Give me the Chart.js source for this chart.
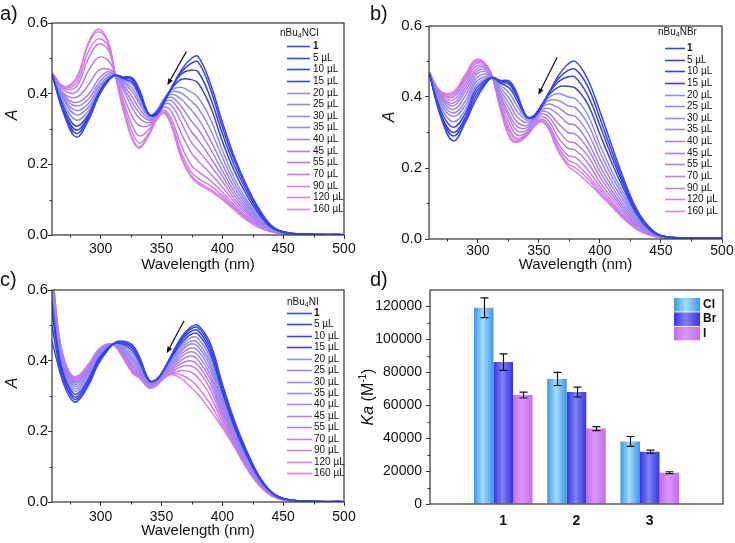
<!DOCTYPE html>
<html><head><meta charset="utf-8">
<script src="https://cdn.jsdelivr.net/npm/chart.js@4/dist/chart.umd.min.js"></script>
<style>
html,body{margin:0;padding:0;background:#fff;}
#wrap{position:relative;width:735px;height:543px;overflow:hidden;font-family:'Liberation Sans',Arial,sans-serif;}
canvas{position:absolute;}
.lbl{position:absolute;font-size:20px;line-height:20px;color:#111;}
</style></head>
<body><div id="wrap">
<canvas id="ca" width="367" height="276" style="left:0;top:0"></canvas>
<canvas id="cb" width="368" height="276" style="left:367px;top:0"></canvas>
<canvas id="cc" width="367" height="271" style="left:0;top:272px"></canvas>
<canvas id="cd" width="380" height="271" style="left:355px;top:272px"></canvas>
<div class="lbl" style="left:0;top:3px">a)</div>
<div class="lbl" style="left:370px;top:3px">b)</div>
<div class="lbl" style="left:0;top:269px">c)</div>
<div class="lbl" style="left:370px;top:269px">d)</div>
</div>
<script>
const FF = "'Liberation Sans', Arial, sans-serif";

// ---------- DATA ----------
const doseLabels = ['1','5 µL','10 µL','15 µL','20 µL','25 µL','30 µL','35 µL','40 µL','45 µL','55 µL','70 µL','90 µL','120 µL','160 µL'];
const wavelengthAB = [260,270,280,290,298,306,312,318,326,332,340,346,352,358,366,374,380,390,400,410,420,430,440,450,470,500];
const wavelengthC  = [260,264,268,274,280,290,298,306,312,318,326,332,340,346,352,358,366,374,380,390,400,410,420,430,440,450,470,500];
const wavelengthTicks = [300,350,400,450,500];
const absTicks = [0,0.2,0.4,0.6];

// a) nBu4NCl
const cl1   = [0.455,0.34,0.277,0.325,0.39,0.435,0.452,0.448,0.445,0.41,0.34,0.34,0.372,0.415,0.465,0.498,0.505,0.43,0.32,0.22,0.14,0.075,0.028,0.009,0.002,0.001];
const cl5   = [0.455,0.345,0.287,0.33,0.392,0.436,0.452,0.447,0.442,0.405,0.34,0.342,0.375,0.415,0.46,0.485,0.49,0.415,0.305,0.21,0.133,0.07,0.026,0.009,0.002,0.001];
const cl10  = [0.455,0.35,0.297,0.335,0.395,0.437,0.452,0.445,0.438,0.40,0.34,0.345,0.378,0.415,0.455,0.466,0.462,0.39,0.287,0.196,0.124,0.065,0.024,0.008,0.002,0.001];
const cl15  = [0.455,0.36,0.308,0.342,0.40,0.44,0.452,0.443,0.432,0.395,0.34,0.348,0.38,0.413,0.44,0.44,0.43,0.365,0.265,0.18,0.113,0.059,0.022,0.007,0.002,0.001];
const cl20  = [0.455,0.37,0.325,0.352,0.405,0.442,0.452,0.44,0.425,0.39,0.34,0.35,0.385,0.41,0.418,0.405,0.39,0.33,0.24,0.16,0.10,0.052,0.02,0.007,0.002,0.001];
const cl25  = [0.455,0.38,0.34,0.362,0.41,0.445,0.452,0.437,0.415,0.38,0.338,0.352,0.385,0.405,0.402,0.38,0.36,0.30,0.22,0.147,0.092,0.048,0.018,0.006,0.002,0.001];
const cl30  = [0.455,0.385,0.352,0.372,0.418,0.448,0.452,0.433,0.405,0.37,0.335,0.352,0.383,0.398,0.385,0.355,0.33,0.27,0.20,0.134,0.084,0.044,0.017,0.006,0.002,0.001];
const cl35  = [0.455,0.39,0.365,0.385,0.428,0.455,0.452,0.428,0.39,0.357,0.33,0.35,0.38,0.39,0.365,0.325,0.30,0.245,0.182,0.122,0.077,0.04,0.016,0.005,0.002,0.001];
const cl40  = [0.455,0.395,0.375,0.398,0.44,0.462,0.452,0.422,0.375,0.345,0.325,0.348,0.375,0.38,0.345,0.295,0.27,0.22,0.167,0.112,0.07,0.037,0.015,0.005,0.002,0.001];
const cl45  = [0.455,0.40,0.39,0.425,0.465,0.47,0.455,0.415,0.36,0.33,0.318,0.345,0.37,0.368,0.32,0.265,0.24,0.198,0.152,0.102,0.064,0.034,0.014,0.005,0.002,0.001];
const cl55  = [0.455,0.41,0.405,0.465,0.502,0.495,0.455,0.40,0.335,0.31,0.31,0.34,0.362,0.35,0.29,0.235,0.21,0.175,0.136,0.093,0.058,0.031,0.013,0.004,0.002,0.001];
const cl70  = [0.457,0.415,0.42,0.50,0.54,0.525,0.455,0.385,0.31,0.28,0.30,0.335,0.354,0.33,0.255,0.20,0.18,0.155,0.121,0.084,0.052,0.027,0.011,0.004,0.002,0.001];
const cl90  = [0.458,0.418,0.43,0.52,0.555,0.535,0.455,0.375,0.29,0.26,0.29,0.33,0.349,0.318,0.235,0.18,0.16,0.14,0.112,0.078,0.048,0.025,0.01,0.004,0.002,0.001];
const cl120 = [0.46,0.42,0.44,0.54,0.575,0.545,0.455,0.365,0.275,0.25,0.287,0.327,0.346,0.312,0.225,0.17,0.15,0.13,0.105,0.074,0.045,0.023,0.01,0.004,0.002,0.001];
const cl160 = [0.46,0.42,0.445,0.545,0.582,0.55,0.455,0.36,0.27,0.246,0.285,0.325,0.345,0.31,0.22,0.165,0.145,0.125,0.10,0.07,0.042,0.021,0.009,0.003,0.002,0.001];

// b) nBu4NBr
const br1   = [0.47,0.34,0.276,0.33,0.39,0.435,0.455,0.447,0.445,0.41,0.345,0.343,0.37,0.41,0.46,0.493,0.50,0.45,0.36,0.26,0.165,0.085,0.035,0.01,0.003,0.002];
const br5   = [0.47,0.345,0.29,0.337,0.40,0.438,0.455,0.445,0.44,0.405,0.345,0.345,0.373,0.41,0.452,0.475,0.478,0.43,0.34,0.245,0.155,0.08,0.032,0.01,0.003,0.002];
const br10  = [0.47,0.35,0.30,0.345,0.41,0.442,0.455,0.443,0.435,0.40,0.345,0.347,0.375,0.41,0.443,0.457,0.455,0.405,0.32,0.23,0.147,0.076,0.03,0.009,0.003,0.002];
const br15  = [0.47,0.36,0.315,0.355,0.42,0.447,0.455,0.44,0.425,0.39,0.343,0.348,0.377,0.405,0.428,0.43,0.425,0.38,0.295,0.212,0.137,0.071,0.028,0.009,0.003,0.002];
const br20  = [0.47,0.37,0.33,0.365,0.43,0.452,0.455,0.435,0.41,0.375,0.34,0.348,0.375,0.398,0.41,0.40,0.395,0.35,0.265,0.19,0.125,0.066,0.026,0.008,0.003,0.002];
const br25  = [0.47,0.38,0.345,0.378,0.44,0.458,0.455,0.428,0.395,0.36,0.335,0.347,0.372,0.39,0.39,0.375,0.37,0.325,0.245,0.175,0.115,0.061,0.024,0.008,0.003,0.002];
const br30  = [0.47,0.388,0.355,0.39,0.45,0.465,0.455,0.42,0.38,0.345,0.328,0.345,0.368,0.38,0.37,0.35,0.345,0.30,0.225,0.16,0.105,0.056,0.022,0.007,0.003,0.002];
const br35  = [0.47,0.395,0.365,0.405,0.46,0.472,0.455,0.412,0.365,0.33,0.32,0.342,0.363,0.368,0.35,0.325,0.32,0.275,0.205,0.147,0.095,0.051,0.02,0.007,0.003,0.002];
const br40  = [0.47,0.40,0.375,0.418,0.468,0.478,0.455,0.405,0.35,0.317,0.313,0.338,0.358,0.355,0.325,0.30,0.295,0.255,0.19,0.135,0.087,0.046,0.018,0.006,0.002,0.002];
const br45  = [0.47,0.403,0.383,0.428,0.476,0.483,0.455,0.398,0.34,0.305,0.306,0.333,0.352,0.345,0.305,0.275,0.27,0.235,0.175,0.125,0.08,0.042,0.017,0.006,0.002,0.001];
const br55  = [0.47,0.407,0.392,0.438,0.485,0.487,0.455,0.39,0.325,0.293,0.30,0.327,0.345,0.333,0.285,0.255,0.25,0.215,0.16,0.115,0.073,0.038,0.015,0.005,0.002,0.001];
const br70  = [0.47,0.41,0.40,0.448,0.493,0.491,0.455,0.383,0.31,0.283,0.296,0.322,0.338,0.322,0.268,0.235,0.23,0.195,0.148,0.105,0.066,0.034,0.014,0.005,0.002,0.001];
const br90  = [0.47,0.412,0.405,0.455,0.498,0.493,0.455,0.378,0.30,0.278,0.293,0.319,0.334,0.316,0.258,0.222,0.213,0.18,0.138,0.098,0.061,0.031,0.013,0.004,0.002,0.001];
const br120 = [0.47,0.414,0.41,0.46,0.502,0.494,0.455,0.374,0.29,0.274,0.291,0.316,0.331,0.312,0.25,0.212,0.20,0.17,0.13,0.093,0.057,0.029,0.012,0.004,0.002,0.001];
const br160 = [0.47,0.415,0.415,0.465,0.505,0.495,0.455,0.37,0.285,0.272,0.29,0.315,0.33,0.31,0.245,0.205,0.19,0.16,0.125,0.09,0.055,0.027,0.011,0.004,0.002,0.001];

// c) nBu4NI
const i1   = [0.455,0.40,0.35,0.30,0.283,0.33,0.39,0.43,0.452,0.455,0.445,0.41,0.345,0.345,0.375,0.415,0.465,0.495,0.50,0.45,0.335,0.23,0.145,0.075,0.03,0.01,0.002,0.001];
const i5   = [0.50,0.42,0.36,0.31,0.29,0.336,0.395,0.432,0.451,0.452,0.44,0.405,0.344,0.346,0.375,0.413,0.46,0.489,0.493,0.44,0.325,0.223,0.14,0.072,0.029,0.01,0.002,0.001];
const i10  = [0.54,0.44,0.37,0.318,0.297,0.342,0.40,0.434,0.45,0.449,0.435,0.40,0.343,0.347,0.375,0.41,0.455,0.482,0.485,0.43,0.318,0.217,0.136,0.07,0.028,0.01,0.002,0.001];
const i15  = [0.57,0.455,0.38,0.326,0.305,0.348,0.404,0.436,0.449,0.446,0.428,0.395,0.342,0.348,0.374,0.407,0.448,0.474,0.475,0.42,0.31,0.211,0.132,0.068,0.027,0.009,0.002,0.001];
const i20  = [0.60,0.47,0.39,0.334,0.313,0.355,0.408,0.438,0.448,0.442,0.42,0.388,0.34,0.347,0.372,0.402,0.44,0.465,0.463,0.408,0.30,0.205,0.128,0.066,0.026,0.009,0.002,0.001];
const i25  = [0.62,0.48,0.398,0.341,0.32,0.36,0.412,0.44,0.447,0.438,0.412,0.382,0.338,0.346,0.37,0.397,0.433,0.455,0.45,0.396,0.292,0.20,0.124,0.064,0.025,0.009,0.002,0.001];
const i30  = [0.63,0.49,0.405,0.347,0.327,0.366,0.416,0.442,0.446,0.434,0.405,0.376,0.336,0.344,0.367,0.392,0.426,0.447,0.44,0.385,0.284,0.194,0.12,0.062,0.024,0.008,0.002,0.001];
const i35  = [0.64,0.495,0.41,0.352,0.333,0.371,0.42,0.443,0.445,0.43,0.398,0.371,0.334,0.342,0.364,0.386,0.418,0.436,0.428,0.373,0.275,0.188,0.116,0.06,0.023,0.008,0.002,0.001];
const i40  = [0.65,0.50,0.415,0.357,0.338,0.375,0.423,0.444,0.444,0.426,0.39,0.366,0.332,0.34,0.361,0.38,0.41,0.425,0.415,0.36,0.265,0.182,0.112,0.058,0.022,0.008,0.002,0.001];
const i45  = [0.655,0.505,0.419,0.361,0.342,0.379,0.425,0.445,0.443,0.422,0.385,0.362,0.33,0.338,0.358,0.375,0.401,0.413,0.402,0.348,0.256,0.176,0.108,0.056,0.021,0.007,0.002,0.001];
const i55  = [0.66,0.51,0.422,0.364,0.346,0.382,0.427,0.446,0.442,0.418,0.38,0.358,0.328,0.336,0.355,0.37,0.392,0.40,0.388,0.335,0.247,0.17,0.104,0.054,0.021,0.007,0.002,0.001];
const i70  = [0.665,0.513,0.425,0.366,0.35,0.385,0.428,0.446,0.441,0.415,0.375,0.355,0.326,0.334,0.353,0.366,0.383,0.385,0.372,0.32,0.237,0.164,0.10,0.052,0.02,0.007,0.002,0.001];
const i90  = [0.67,0.516,0.427,0.368,0.352,0.387,0.429,0.447,0.441,0.413,0.371,0.353,0.324,0.332,0.352,0.363,0.372,0.368,0.352,0.302,0.226,0.16,0.098,0.05,0.019,0.006,0.002,0.001];
const i120 = [0.675,0.518,0.429,0.369,0.354,0.389,0.43,0.447,0.44,0.411,0.368,0.351,0.323,0.331,0.351,0.362,0.36,0.345,0.325,0.278,0.216,0.157,0.096,0.049,0.018,0.006,0.002,0.001];
const i160 = [0.68,0.52,0.43,0.37,0.355,0.39,0.43,0.447,0.44,0.41,0.365,0.35,0.322,0.33,0.35,0.36,0.35,0.325,0.305,0.26,0.21,0.155,0.095,0.048,0.018,0.006,0.002,0.001];

// d) association constants
const compounds = [1,2,3];
const kaTicks = [0,20000,40000,60000,80000,100000,120000];
const kaCl = [119200, 76000, 38000];
const kaBr = [86200, 68000, 31700];
const kaI  = [66200, 45800, 19000];
const errCl = [6000, 4000, 3000];
const errBr = [5000, 3000, 1000];
const errI  = [1800, 1200, 600];

const clSeries = [cl1,cl5,cl10,cl15,cl20,cl25,cl30,cl35,cl40,cl45,cl55,cl70,cl90,cl120,cl160];
const brSeries = [br1,br5,br10,br15,br20,br25,br30,br35,br40,br45,br55,br70,br90,br120,br160];
const iSeries  = [i1,i5,i10,i15,i20,i25,i30,i35,i40,i45,i55,i70,i90,i120,i160];

// ---------- STYLE ----------
const seriesColors = ['#3a48e6','#3442ea','#3740e8','#3b44e6','#8b8ff3','#9089f1','#9786f0','#9f83ef','#a880ee','#b07eee','#ba7cee','#c47cec','#cd7deb','#d67fea','#de82e8'];
const barEdge = ['#3f95ea','#3535e0','#c46cf0'];
const barMid  = ['#a2ddfb','#8080f6','#dc96f7'];

function mids(majors, min, max) {
  const out = []; const step = majors[1] - majors[0];
  for (let k = -1; k < majors.length; k++) {
    const v = majors[0] + step * (k + 0.5);
    if (v > min + 1e-9 && v < max - 1e-9) out.push(v);
  }
  return out;
}

function barGrad(ctx, x0, x1, i) {
  const g = ctx.createLinearGradient(x0, 0, x1, 0);
  g.addColorStop(0, barEdge[i]); g.addColorStop(0.45, barMid[i]); g.addColorStop(1, barEdge[i]);
  return g;
}

const extras = {
  id: 'extras',
  beforeDatasetsDraw(chart, args, opts) {
    if (!opts.barGradient) return;
    const ctx = chart.ctx;
    chart.data.datasets.forEach((ds, i) => {
      chart.getDatasetMeta(i).data.forEach(el => {
        const g = barGrad(ctx, el.x - el.width / 2, el.x + el.width / 2, i);
        el.options = Object.assign({}, el.options, {backgroundColor: g});
      });
    });
  },
  afterDraw(chart, args, opts) {
    const ctx = chart.ctx; const ca = chart.chartArea;
    ctx.save();
    (opts.minor || []).forEach(m => {
      const s = chart.scales[m.axis];
      ctx.strokeStyle = '#333'; ctx.lineWidth = 1;
      m.values.forEach(v => {
        const p = s.getPixelForValue(v);
        ctx.beginPath();
        if (s.isHorizontal()) { const px = Math.round(p) + 0.5; ctx.moveTo(px, ca.bottom); ctx.lineTo(px, ca.bottom + m.len); }
        else { const py = Math.round(p) + 0.5; ctx.moveTo(ca.left, py); ctx.lineTo(ca.left - m.len, py); }
        ctx.stroke();
      });
    });
    ctx.strokeStyle = '#333'; ctx.lineWidth = 1.2;
    ctx.strokeRect(ca.left, ca.top, ca.right - ca.left, ca.bottom - ca.top);
    const a = opts.arrow;
    if (a) {
      const xs = chart.scales.x, ys = chart.scales.y;
      const x1 = xs.getPixelForValue(a.from[0]), y1 = ys.getPixelForValue(a.from[1]);
      const x2 = xs.getPixelForValue(a.to[0]), y2 = ys.getPixelForValue(a.to[1]);
      const ang = Math.atan2(y2 - y1, x2 - x1);
      ctx.strokeStyle = '#111'; ctx.fillStyle = '#111'; ctx.lineWidth = 1.2;
      ctx.beginPath(); ctx.moveTo(x1, y1); ctx.lineTo(x2 - 4 * Math.cos(ang), y2 - 4 * Math.sin(ang)); ctx.stroke();
      ctx.beginPath(); ctx.moveTo(x2, y2);
      ctx.lineTo(x2 - 7 * Math.cos(ang - 0.38), y2 - 7 * Math.sin(ang - 0.38));
      ctx.lineTo(x2 - 7 * Math.cos(ang + 0.38), y2 - 7 * Math.sin(ang + 0.38));
      ctx.closePath(); ctx.fill();
    }
    const L = opts.legend;
    if (L) {
      ctx.fillStyle = '#111'; ctx.textBaseline = 'middle'; ctx.textAlign = 'left';
      let x = L.titleX;
      ctx.font = `10px ${FF}`; ctx.fillText(L.title[0], x, L.titleY); x += ctx.measureText(L.title[0]).width;
      ctx.font = `7px ${FF}`; ctx.fillText(L.title[1], x, L.titleY + 3); x += ctx.measureText(L.title[1]).width;
      ctx.font = `10px ${FF}`; ctx.fillText(L.title[2], x, L.titleY);
      chart.data.datasets.forEach((ds, i) => {
        const y = Math.round(L.firstY + i * L.dy) + 0.5;
        ctx.strokeStyle = ds.borderColor; ctx.lineWidth = 1.6;
        ctx.beginPath(); ctx.moveTo(L.x1, y); ctx.lineTo(L.x2, y); ctx.stroke();
        ctx.fillStyle = '#111';
        ctx.font = (i === 0 ? 'bold ' : '') + `10px ${FF}`;
        ctx.fillText(ds.label, L.textX, y);
      });
    }
    const B = opts.barLegend;
    if (B) {
      ctx.textBaseline = 'middle'; ctx.textAlign = 'left';
      chart.data.datasets.forEach((ds, i) => {
        const y0 = B.y + i * B.dy;
        ctx.fillStyle = barGrad(ctx, B.x, B.x + B.w, i);
        ctx.fillRect(B.x, y0, B.w, B.h);
        ctx.fillStyle = '#111'; ctx.font = `bold 12px ${FF}`;
        ctx.fillText(ds.label, B.textX, y0 + B.h / 2);
      });
    }
    const E = opts.errors;
    if (E) {
      const ys = chart.scales.y;
      ctx.strokeStyle = '#111'; ctx.lineWidth = 1.2;
      chart.data.datasets.forEach((ds, i) => {
        chart.getDatasetMeta(i).data.forEach((el, j) => {
          const v = ds.data[j].y, e = E[i][j];
          const yt = ys.getPixelForValue(v + e), yb = ys.getPixelForValue(v - e);
          const x = Math.round(el.x) + 0.5;
          ctx.beginPath();
          ctx.moveTo(x, yt); ctx.lineTo(x, yb);
          ctx.moveTo(x - 4, yt); ctx.lineTo(x + 4, yt);
          ctx.moveTo(x - 4, yb); ctx.lineTo(x + 4, yb);
          ctx.stroke();
        });
      });
    }
    const T = opts.ytitle;
    if (T) {
      ctx.translate(T.x, T.y); ctx.rotate(-Math.PI / 2);
      ctx.fillStyle = '#111'; ctx.textBaseline = 'middle'; ctx.textAlign = 'left';
      const fontOf = p => `${p.italic ? 'italic ' : ''}${p.sup ? Math.round(T.size * 0.65) : T.size}px ${FF}`;
      let w = 0;
      T.parts.forEach(p => { ctx.font = fontOf(p); w += ctx.measureText(p.t).width; });
      let x = -w / 2;
      T.parts.forEach(p => { ctx.font = fontOf(p); ctx.fillText(p.t, x, p.sup ? -T.size * 0.35 : 0); x += ctx.measureText(p.t).width; });
    }
    ctx.restore();
  }
};

function lineChart(id, grid, series, cfg) {
  const datasets = series.map((ys, i) => ({
    label: doseLabels[i],
    data: ys.map((y, j) => ({x: grid[j], y: y})),
    borderColor: seriesColors[i],
    borderWidth: 1.5,
    pointRadius: 0,
    fill: false,
    tension: 0.4
  }));
  return new Chart(document.getElementById(id), {
    type: 'line',
    data: {datasets},
    options: {
      responsive: false, animation: false, devicePixelRatio: 1,
      layout: {padding: cfg.pad},
      plugins: {
        legend: {display: false}, tooltip: {enabled: false},
        extras: {
          minor: [{axis: 'x', values: mids(wavelengthTicks, 260, 500), len: 2.5}, {axis: 'y', values: mids(absTicks, 0, 0.6), len: 2.5}],
          arrow: cfg.arrow, legend: cfg.legend,
          ytitle: {x: cfg.yt[0], y: cfg.yt[1], size: 16, parts: [{t: 'A', italic: true}]}
        }
      },
      scales: {
        x: {
          type: 'linear', min: 260, max: 500,
          afterBuildTicks: s => { s.ticks = wavelengthTicks.map(v => ({value: v})); },
          afterFit: s => { s.height = cfg.xh; },
          grid: {drawOnChartArea: false, drawTicks: true, tickLength: 4, color: '#333'},
          border: {display: false},
          ticks: {font: {size: 14, family: FF}, color: '#111', padding: cfg.xpad, maxRotation: 0, autoSkip: false},
          title: {display: true, text: 'Wavelength (nm)', font: {size: 15, family: FF}, color: '#111', padding: {top: 0, bottom: cfg.tpad}}
        },
        y: {
          min: 0, max: 0.6,
          afterBuildTicks: s => { s.ticks = absTicks.map(v => ({value: v})); },
          afterFit: s => { s.width = cfg.yw; },
          grid: {drawOnChartArea: false, drawTicks: true, tickLength: 4, color: '#333'},
          border: {display: false},
          ticks: {font: {size: 15, family: FF}, color: '#111', padding: cfg.ypad, callback: v => v.toFixed(1)}
        }
      }
    },
    plugins: [extras]
  });
}

lineChart('ca', wavelengthAB, clSeries, {
  pad: {left: 0, top: 23, right: 23, bottom: 0}, yw: 52, xh: 41, xpad: 1.5, ypad: 0, tpad: 2,
  yt: [13, 115],
  arrow: {from: [370.4, 0.519], to: [354.8, 0.424]},
  legend: {title: ['nBu', '4', 'NCl'], titleX: 280, titleY: 33, x1: 287, x2: 310, textX: 313, firstY: 46, dy: 11.64}
});
lineChart('cb', wavelengthAB, brSeries, {
  pad: {left: 0, top: 26, right: 13, bottom: 0}, yw: 62, xh: 37, xpad: 0, ypad: 3, tpad: 2,
  yt: [23, 117],
  arrow: {from: [365, 0.512], to: [349.5, 0.406]},
  legend: {title: ['nBu', '4', 'NBr'], titleX: 291, titleY: 32, x1: 298, x2: 318, textX: 320, firstY: 48, dy: 11.64}
});
lineChart('cc', wavelengthC, iSeries, {
  pad: {left: 0, top: 18, right: 23, bottom: 0}, yw: 52, xh: 41, xpad: 3, ypad: 0, tpad: 3,
  yt: [13, 111],
  arrow: {from: [368.5, 0.513], to: [354.3, 0.421]},
  legend: {title: ['nBu', '4', 'NI'], titleX: 287, titleY: 30, x1: 287, x2: 312, textX: 314, firstY: 41, dy: 11.43}
});

new Chart(document.getElementById('cd'), {
  type: 'bar',
  data: {datasets: [
    {label: 'Cl', data: compounds.map((c, i) => ({x: c, y: kaCl[i]})), backgroundColor: barEdge[0], borderWidth: 0, barPercentage: 1, categoryPercentage: 0.8},
    {label: 'Br', data: compounds.map((c, i) => ({x: c, y: kaBr[i]})), backgroundColor: barEdge[1], borderWidth: 0, barPercentage: 1, categoryPercentage: 0.8},
    {label: 'I',  data: compounds.map((c, i) => ({x: c, y: kaI[i]})),  backgroundColor: barEdge[2], borderWidth: 0, barPercentage: 1, categoryPercentage: 0.8}
  ]},
  options: {
    responsive: false, animation: false, devicePixelRatio: 1,
    layout: {padding: {left: 0, top: 18, right: 12, bottom: 0}},
    plugins: {
      legend: {display: false}, tooltip: {enabled: false},
      extras: {
        barGradient: true,
        minor: [{axis: 'y', values: mids(kaTicks, 0, 130000), len: 2.5}],
        errors: [errCl, errBr, errI],
        barLegend: {x: 319, y: 26, w: 26, h: 13.5, dy: 14.4, textX: 348},
        ytitle: {x: 14, y: 125, size: 16, parts: [{t: 'Ka', italic: true}, {t: ' (M'}, {t: '-1', sup: true}, {t: ')'}]}
      }
    },
    scales: {
      x: {
        type: 'linear', min: 0, max: 4, offset: false,
        afterBuildTicks: s => { s.ticks = compounds.map(v => ({value: v})); },
        afterFit: s => { s.height = 39; },
        grid: {display: false}, border: {display: false},
        ticks: {font: {size: 14, weight: 'bold', family: FF}, color: '#111', padding: 1, callback: v => String(v)}
      },
      y: {
        min: 0, max: 130000,
        afterBuildTicks: s => { s.ticks = kaTicks.map(v => ({value: v})); },
        afterFit: s => { s.width = 75; },
        grid: {drawOnChartArea: false, drawTicks: true, tickLength: 4, color: '#333'},
        border: {display: false},
        ticks: {font: {size: 14, family: FF}, color: '#111', padding: 4, callback: v => String(v)}
      }
    }
  },
  plugins: [extras]
});
</script>
</body></html>
